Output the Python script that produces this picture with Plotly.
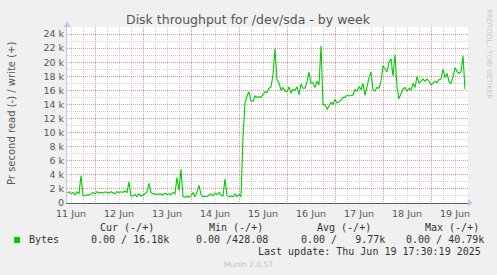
import pandas as pd
import plotly.graph_objects as go

# ---------------- data ----------------
start_time = "2025-06-11 10:00"
end_time = "2025-06-19 18:30"
# hourly write throughput (bytes/s, in thousands)
write_k = [
    1.4, 1.6, 1.3, 1.5, 1.2, 1.6, 1.3, 3.9, 1.1, 1.0,
    1.2, 1.1, 1.3, 1.5, 1.3, 1.6, 1.4, 1.5, 1.4, 1.6,
    1.5, 1.4, 1.6, 1.5, 1.3, 1.6, 1.5, 1.6, 1.5, 1.7,
    1.5, 3.0, 1.0, 1.0, 1.2, 0.9, 1.3, 1.0, 1.1, 1.3,
    1.6, 2.8, 1.5, 1.3, 1.3, 1.2, 1.3, 1.3, 1.2, 1.4,
    1.2, 1.3, 1.2, 1.5, 1.3, 3.6, 1.8, 4.8, 0.9, 0.8,
    1.0, 0.8, 1.0, 1.5, 0.9, 1.6, 2.5, 1.2, 0.9, 1.0,
    0.9, 1.1, 1.3, 1.0, 1.4, 1.2, 1.5, 1.1, 1.0, 3.4,
    1.1, 0.9, 1.0, 0.9, 1.3, 0.9, 1.2, 0.9, 9.5, 14.2,
    15.2, 15.8, 14.5, 14.4, 15.2, 15.0, 15.1, 15.0, 15.4, 15.8,
    15.7, 16.3, 16.5, 18.2, 21.9, 17.5, 17.1, 16.0, 16.4, 15.9,
    15.8, 16.5, 15.6, 16.1, 16.0, 16.5, 15.4, 16.9, 16.3, 16.3,
    17.2, 18.6, 17.0, 17.1, 16.4, 17.3, 16.8, 22.3, 14.0, 14.0,
    13.3, 13.9, 14.3, 14.0, 14.7, 14.2, 14.4, 14.6, 15.0, 15.0,
    15.3, 15.2, 15.3, 15.3, 16.1, 15.9, 16.5, 16.1, 17.0, 15.3,
    16.5, 17.8, 18.6, 16.1, 15.9, 16.4, 16.3, 17.3, 19.5, 19.0,
    18.6, 20.0, 20.5, 18.0, 21.1, 16.5, 14.8, 15.5, 16.2, 16.4,
    15.9, 16.3, 16.0, 17.0, 16.4, 18.0, 17.0, 17.3, 17.6, 17.3,
    17.6, 17.3, 16.8, 17.0, 17.3, 17.1, 17.5, 17.6, 19.0, 17.8,
    18.4, 17.2, 17.0, 17.9, 19.2, 18.7, 18.4, 18.6, 20.9, 16.18,
]
y_tick_values = [0, 2000, 4000, 6000, 8000, 10000, 12000, 14000, 16000,
                 18000, 20000, 22000, 24000]
y_tick_labels = ["0", "2 k", "4 k", "6 k", "8 k", "10 k", "12 k", "14 k",
                 "16 k", "18 k", "20 k", "22 k", "24 k"]
series_name = "Bytes"
stat_headers = ["Cur (-/+)", "Min (-/+)", "Avg (-/+)", "Max (-/+)"]
stat_values = ["0.00 / 16.18k", "0.00 /428.08", "0.00 /   9.77k", "0.00 / 40.79k"]
title_text = "Disk throughput for /dev/sda - by week"
y_title = "Pr second read (-) / write (+)"
last_update = "Last update: Thu Jun 19 17:30:19 2025"
footer = "Munin 2.0.57"
side_text = "RRDTOOL / TOBI OETIKER"

times = pd.date_range(start_time, periods=len(write_k), freq="h")
values = [v * 1000 for v in write_k]

# ---------------- layout helpers ----------------
W, H = 497, 275
L, R, T, B = 67, 468, 27, 203


def px(x):
    return (x - L) / (R - L)


def py(y):
    return (B - y) / (B - T)


GREEN = "#00CC00"
TXT = "#555555"
LEG = "#333333"
MONO = "DejaVu Sans Mono"
SANS = "DejaVu Sans"
MAJ = "#e29494"
MIN = "#d0d0d0"
DASH = "1px,1px"

fig = go.Figure()
fig.add_trace(go.Scatter(x=times, y=values, mode="lines",
                         line=dict(color=GREEN, width=1.1), showlegend=False,
                         hoverinfo="skip"))

fig.update_layout(
    width=W, height=H,
    margin=dict(l=L, r=W - R, t=T, b=H - B, pad=0),
    paper_bgcolor="#F0F0F0", plot_bgcolor="#FFFFFF",
    showlegend=False,
    xaxis=dict(
        type="date", range=[start_time, end_time],
        tickformat="%d %b", dtick=86400000, tick0="2025-06-12",
        ticklabelmode="period",
        showgrid=True, gridcolor=MAJ, griddash=DASH, gridwidth=1,
        minor=dict(dtick=21600000, tick0="2025-06-12", showgrid=True,
                   gridcolor=MIN, griddash=DASH, gridwidth=1),
        showline=True, linecolor="#606060", linewidth=1,
        ticks="", zeroline=False, ticklabelstandoff=2,
        tickfont=dict(family=SANS, size=9.5, color=TXT),
    ),
    yaxis=dict(
        range=[0, 25000], tickvals=y_tick_values, ticktext=y_tick_labels,
        showgrid=True, gridcolor=MAJ, griddash=DASH, gridwidth=1,
        minor=dict(dtick=1000, showgrid=True, gridcolor=MIN,
                   griddash=DASH, gridwidth=1),
        showline=True, linecolor="#c4c4f0", linewidth=1,
        ticks="", zeroline=False,
        tickfont=dict(family=SANS, size=9.5, color=TXT),
    ),
)

ann = []


def add_text(text, x, y, xanchor="left", size=10, family=MONO, color=LEG,
             angle=0):
    ann.append(dict(text=text, x=px(x), y=py(y), xref="paper", yref="paper",
                    xanchor=xanchor, yanchor="middle", showarrow=False,
                    textangle=angle,
                    font=dict(family=family, size=size, color=color)))


add_text(title_text, 248, 19.5, xanchor="center", size=12.5, family=SANS,
         color=TXT)
add_text(y_title, 12, 114, xanchor="center", size=10, family=SANS, color=TXT,
         angle=-90)
add_text(side_text, 488.5, 53.5, xanchor="center", size=7, family=SANS,
         color="#c8c8c8", angle=90)

header_x = [98.3, 206.7, 315, 422.7]
value_x = [89.3, 194.3, 299.3, 404.3]
for hx, h in zip(header_x, stat_headers):
    add_text(h, hx, 227.7)
add_text(series_name, 26.7, 239.7)
for vx, v in zip(value_x, stat_values):
    add_text(v.replace(" ", "\u00a0"), vx, 239.7)
add_text(last_update, 482.7, 251.7, xanchor="right")
add_text(footer, 248, 264, xanchor="center", size=7.5, family=SANS,
         color="#c0c0c0")

fig.update_layout(annotations=ann)

shapes = [
    # legend colour box
    dict(type="rect", xref="paper", yref="paper",
         x0=px(14), x1=px(20), y0=py(243), y1=py(237),
         fillcolor=GREEN, line=dict(width=0)),
    # arrow on x axis
    dict(type="path", xref="paper", yref="paper",
         path=f"M {px(468)},{py(199.5)} L {px(473)},{py(203)} L {px(468)},{py(206.5)} Z",
         fillcolor="#c4c4f0", line=dict(width=0)),
    # arrow on y axis
    dict(type="path", xref="paper", yref="paper",
         path=f"M {px(63.5)},{py(27)} L {px(67)},{py(21)} L {px(70.5)},{py(27)} Z",
         fillcolor="#c4c4f0", line=dict(width=0)),
]
fig.update_layout(shapes=shapes)

fig.write_html("out.html")
